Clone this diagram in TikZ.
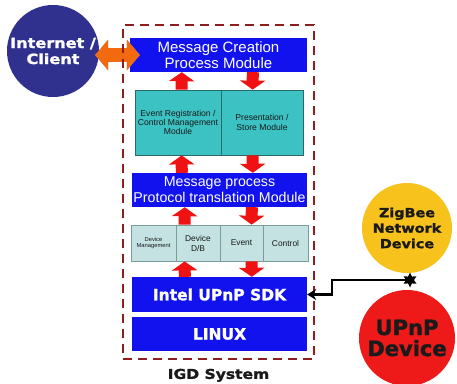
\documentclass[tikz,border=0pt]{standalone}
\usepackage{fontspec}
\setmainfont{Liberation Sans}
\newfontfamily\heavy{DejaVu Sans}[FakeStretch=1.15,FakeBold=1.6]
\newfontfamily\heavyn{DejaVu Sans}[FakeBold=1.6]
\usetikzlibrary{arrows.meta,shapes.geometric,calc}
\definecolor{boxblue}{HTML}{1212EE}
\definecolor{navy}{HTML}{30308E}
\definecolor{tealbox}{HTML}{3CC2C2}
\definecolor{tealline}{HTML}{2A6A6A}
\definecolor{lightrow}{HTML}{C4E2E2}
\definecolor{rowline}{HTML}{7C9C9C}
\definecolor{fatred}{HTML}{F01212}
\definecolor{dashred}{HTML}{8E1E1E}
\definecolor{zigyellow}{HTML}{F7C21C}
\definecolor{upnpred}{HTML}{EE1A1A}
\definecolor{oarr}{HTML}{F26A10}
\definecolor{darktext}{HTML}{1A1A1A}
\tikzset{
  bluebox/.style={draw=none, fill=boxblue, text=white, align=center, inner sep=0pt},
  tealmod/.style={draw=tealline, line width=0.8pt, fill=tealbox, text=darktext, align=center, inner sep=0pt,
    font=\fontsize{8.6}{9.4}\selectfont},
  rowmod/.style={draw=rowline, line width=0.8pt, fill=lightrow, text=darktext, align=center, inner sep=0pt,
    minimum height=36pt, font=\fontsize{8.4}{10}\selectfont},
  fat/.style={draw=fatred, line width=12pt, -{Triangle[width=25pt,length=9pt]}},
  conn/.style={draw=black, line width=2.6pt, -{Stealth[width=11pt,length=9pt]}},
  bigcirc/.style={circle, inner sep=0pt, align=center},
}
\begin{document}
\begin{tikzpicture}[x=1pt,y=-1pt]
\useasboundingbox (0,0) rectangle (457,383);
\clip (0,0) rectangle (457,383);
\fill[white] (0,0) rectangle (457,383);

% circles
\node[bigcirc, fill=navy, minimum size=92pt, text=white,
  font=\heavy\bfseries\fontsize{14}{16}\selectfont] (ic) at (53,51) {Internet /\\Client};
\node[bigcirc, fill=zigyellow, minimum size=90pt, text=darktext,
  font=\heavy\bfseries\fontsize{12.5}{15.5}\selectfont] (zb) at (407,228) {ZigBee\\Network\\Device};
\node[bigcirc, fill=upnpred, minimum size=96pt, text=darktext,
  font=\heavyn\bfseries\fontsize{21}{21}\selectfont] (up) at (407,338) {UPnP\\Device};

% boxes
\node[bluebox, minimum width=177pt, minimum height=34pt, font=\fontsize{15}{16}\selectfont]
  (mc) at (218.5,55) {Message Creation\\Process Module};
\node[tealmod, minimum width=86pt, minimum height=65pt] (ev) at (178,122.5)
  {Event Registration /\\Control Management\\Module};
\node[tealmod, minimum width=82pt, minimum height=65pt] (ps) at (262,122.5)
  {Presentation /\\Store Module};
\node[bluebox, minimum width=175pt, minimum height=34pt, font=\fontsize{14.2}{16}\selectfont]
  (mp) at (219.5,190) {Message process\\Protocol translation Module};
\node[rowmod, minimum width=45pt, font=\fontsize{5.8}{6.5}\selectfont] (dm) at (153.5,243) {Device\\Management};
\node[rowmod, minimum width=44pt] (db) at (198,243) {Device\\D/B};
\node[rowmod, minimum width=43pt] (evn) at (241.5,243) {Event};
\node[rowmod, minimum width=45pt] (ctl) at (285.5,243) {Control};
\node[bluebox, minimum width=175pt, minimum height=35pt, font=\heavyn\bfseries\fontsize{15.5}{17}\selectfont]
  (sdk) at (219.5,294.5) {Intel UPnP SDK};
\node[bluebox, minimum width=175pt, minimum height=34pt, font=\heavyn\bfseries\fontsize{15.5}{17}\selectfont]
  (lx) at (219.5,334) {LINUX};

% fat red arrows
\draw[fat] ([xshift=47pt]ev.north west) -- ([xshift=52pt]mc.south west);
\draw[fat] ([xshift=123pt]mc.south west) -- ([xshift=32pt]ps.north west);
\draw[fat] ([xshift=50pt]mp.north west) -- ([xshift=47pt]ev.south west);
\draw[fat] ([xshift=32pt]ps.south west) -- ([xshift=121pt]mp.north west);
\draw[fat] ([xshift=9pt]db.north west) -- ([xshift=53pt]mp.south west);
\draw[fat] ([xshift=120pt]mp.south west) -- ([xshift=32pt]evn.north west);
\draw[fat] ([xshift=53pt]sdk.north west) -- ([xshift=9pt]db.south west);
\draw[fat] ([xshift=32pt]evn.south west) -- ([xshift=120pt]sdk.north west);

% orange double arrow
\draw[draw=gray!80, line width=14pt, {Triangle[width=30pt,length=13pt]}-{Triangle[width=30pt,length=13pt]},
  shorten <=-4pt, shorten >=-10pt, yshift=-4pt] (ic.east |- mc.west) -- (mc.west);
\draw[draw=oarr, line width=14pt, {Triangle[width=30pt,length=13pt]}-{Triangle[width=30pt,length=13pt]},
  shorten <=-4pt, shorten >=-10pt] (ic.east |- mc.west) -- (mc.west);

% dashed system border
\node[draw=dashred, line width=2.6pt, dash pattern=on 9pt off 6pt, inner sep=0pt,
  minimum width=191pt, minimum height=334pt] (igd) at (218.5,192) {};
\node[font=\heavy\bfseries\fontsize{13.5}{15}\selectfont, text=darktext, anchor=north] (igdl)
  at ([yshift=-5pt]igd.south) {IGD System};

% connector
\node[star, star points=6, star point ratio=1.9, fill=black, minimum size=15pt, inner sep=0pt] (st) at (410,280) {};
\draw[conn] (st.center) -- ++(-78,0) |- (sdk.east);
\end{tikzpicture}
\end{document}
